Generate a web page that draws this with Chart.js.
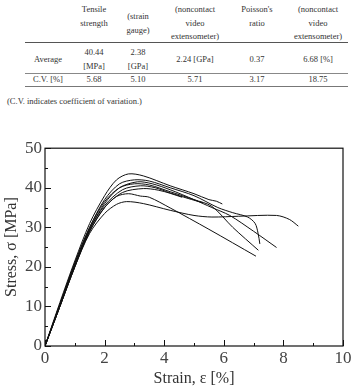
<!DOCTYPE html>
<html>
<head>
<meta charset="utf-8">
<script src="https://cdn.jsdelivr.net/npm/chart.js@4.4.1/dist/chart.umd.min.js"></script>
<style>
  body { margin: 0; background: #fff; width: 356px; height: 390px; position: relative; overflow: hidden; }
  .t { position: absolute; font-family: "Liberation Serif", "DejaVu Serif", serif; font-size: 8.5px; color: #333; line-height: 13.5px; text-align: center; width: 80px; white-space: nowrap; }
  .rule { position: absolute; left: 25px; width: 323px; }
  #chart { position: absolute; left: 0; top: 135px; }
</style>
</head>
<body>
<!-- table above the chart -->
<div class="t" style="left:54px; top:3px;">Tensile<br>strength</div>
<div class="t" style="left:98px; top:10px;">(strain<br>gauge)</div>
<div class="t" style="left:155px; top:3px;">(noncontact<br>video<br>extensometer)</div>
<div class="t" style="left:217px; top:3px;">Poisson's<br>ratio</div>
<div class="t" style="left:278px; top:3px;">(noncontact<br>video<br>extensometer)</div>
<div class="rule" style="top:42px; border-top:1.5px solid #555;"></div>

<div class="t" style="left:8px; top:53px;">Average</div>
<div class="t" style="left:54px; top:46px;">40.44<br>[MPa]</div>
<div class="t" style="left:98px; top:46px;">2.38<br>[GPa]</div>
<div class="t" style="left:155px; top:53px;">2.24 [GPa]</div>
<div class="t" style="left:217px; top:53px;">0.37</div>
<div class="t" style="left:278px; top:53px;">6.68 [%]</div>
<div class="rule" style="top:73px; border-top:1px solid #888;"></div>

<div class="t" style="left:8px; top:73px;">C.V. [%]</div>
<div class="t" style="left:54px; top:73px;">5.68</div>
<div class="t" style="left:98px; top:73px;">5.10</div>
<div class="t" style="left:155px; top:73px;">5.71</div>
<div class="t" style="left:217px; top:73px;">3.17</div>
<div class="t" style="left:278px; top:73px;">18.75</div>
<div class="rule" style="top:86px; border-top:1px solid #777;"></div>

<div class="t" style="left:7px; top:95px; width:auto; text-align:left;">(C.V. indicates coefficient of variation.)</div>

<canvas id="chart" width="356" height="255"></canvas>

<script>
// strain [%] / stress [MPa] for each specimen
var strain1 = [0, 0.5, 1.0, 1.5, 2.0, 2.4, 2.8, 3.3, 4.2, 5.0, 5.5, 5.75, 5.95];
var stress1 = [0, 11.0, 21.5, 31.0, 38.0, 42.0, 43.5, 43.0, 40.5, 38.5, 37.0, 36.6, 35.9];

var strain2 = [0, 0.5, 1.0, 1.5, 2.0, 2.5, 3.0, 3.5, 4.2, 5.0, 5.8, 6.3, 6.8, 7.05, 7.15, 7.21];
var stress2 = [0, 10.5, 21.0, 30.0, 37.0, 41.0, 42.0, 41.7, 40.0, 38.0, 35.0, 33.7, 32.6, 31.0, 28.5, 25.8];

var strain3 = [0, 0.5, 1.0, 1.5, 2.0, 2.5, 3.1, 3.6, 4.2, 5.0, 5.6, 6.2, 7.0, 7.77];
var stress3 = [0, 10.0, 20.0, 29.5, 36.0, 40.0, 41.5, 41.0, 39.5, 37.0, 35.0, 33.0, 29.0, 24.9];

var strain4 = [0, 0.5, 1.0, 1.5, 2.0, 2.5, 3.0, 3.5, 4.2, 5.0, 5.6, 6.3, 7.16];
var stress4 = [0, 10.5, 21.0, 30.0, 36.5, 40.0, 41.0, 40.7, 39.0, 37.0, 35.3, 30.0, 24.2];

var strain5 = [0, 0.5, 1.0, 1.5, 2.0, 2.6, 3.2, 3.7, 4.2, 4.8, 5.3];
var stress5 = [0, 10.0, 20.5, 29.5, 35.5, 39.5, 40.5, 40.0, 38.7, 37.3, 36.2];

var strain6 = [0, 0.5, 1.0, 1.5, 2.0, 2.6, 3.3, 3.8, 4.2, 4.6];
var stress6 = [0, 10.0, 20.0, 29.0, 35.0, 38.8, 39.8, 39.4, 38.6, 37.6];

var strain7 = [0, 0.5, 1.0, 1.5, 2.0, 2.4, 2.8, 3.2, 3.5, 4.2, 5.5, 7.08];
var stress7 = [0, 10.5, 20.5, 29.0, 35.0, 37.8, 38.5, 37.9, 37.6, 34.9, 29.5, 22.7];

var strain8 = [0, 0.5, 1.0, 1.5, 2.0, 2.4, 2.74, 3.3, 4.2, 5.0, 5.6, 6.5, 7.77, 8.2, 8.5];
var stress8 = [0, 10.0, 20.0, 28.5, 33.5, 35.8, 36.5, 36.0, 34.3, 33.0, 32.6, 32.8, 33.0, 32.0, 30.3];

var allStrain = [strain1, strain2, strain3, strain4, strain5, strain6, strain7, strain8];
var allStress = [stress1, stress2, stress3, stress4, stress5, stress6, stress7, stress8];

var xTicks = [0, 2, 4, 6, 8, 10];
var yTicks = [0, 10, 20, 30, 40, 50];

var serif = '"Liberation Serif", "DejaVu Serif", serif';

function toPoints(xs, ys) {
  var pts = [];
  for (var i = 0; i < xs.length; i++) {
    pts.push({x: xs[i], y: ys[i]});
  }
  return pts;
}

var datasets = [];
for (var i = 0; i < allStrain.length; i++) {
  datasets.push({
    data: toPoints(allStrain[i], allStress[i]),
    borderColor: '#111',
    borderWidth: 1,
    pointRadius: 0,
    showLine: true,
    fill: false,
    tension: 0.3
  });
}

// frame plus inward ticks (major and minor)
var frameTicks = {
  id: 'frameTicks',
  afterDatasetsDraw: function(chart) {
    var ctx = chart.ctx, a = chart.chartArea, x = chart.scales.x, y = chart.scales.y;
    ctx.save();
    ctx.strokeStyle = '#111';
    ctx.lineWidth = 1.2;
    ctx.strokeRect(a.left, a.top, a.right - a.left, a.bottom - a.top);
    ctx.lineWidth = 1;
    ctx.beginPath();
    for (var v = 0; v <= 10; v++) {
      var px = Math.round(x.getPixelForValue(v)) + 0.5;
      var len = v % 2 ? 3 : 6;
      ctx.moveTo(px, a.bottom);
      ctx.lineTo(px, a.bottom - len);
    }
    for (var w = 0; w <= 50; w += 5) {
      var py = Math.round(y.getPixelForValue(w)) + 0.5;
      var l2 = w % 10 ? 3 : 6;
      ctx.moveTo(a.left, py);
      ctx.lineTo(a.left + l2, py);
    }
    ctx.stroke();
    ctx.restore();
  }
};

new Chart(document.getElementById('chart'), {
  type: 'scatter',
  data: {datasets: datasets},
  options: {
    responsive: false,
    animation: false,
    devicePixelRatio: 1,
    layout: {padding: {top: 12, right: 13, left: 0, bottom: 0}},
    plugins: {legend: {display: false}, tooltip: {enabled: false}},
    scales: {
      x: {
        type: 'linear', min: 0, max: 10,
        afterFit: function(s) { s.height = 44; },
        afterBuildTicks: function(s) { s.ticks = xTicks.map(function(v) { return {value: v}; }); },
        grid: {display: false, drawTicks: false},
        border: {display: false},
        ticks: {padding: 2, color: '#444', font: {family: serif, size: 17}},
        title: {display: true, text: 'Strain, ε [%]', color: '#333', font: {family: serif, size: 16}, padding: {top: 0, bottom: 2}}
      },
      y: {
        type: 'linear', min: 0, max: 50,
        afterFit: function(s) { s.width = 45; },
        afterBuildTicks: function(s) { s.ticks = yTicks.map(function(v) { return {value: v}; }); },
        grid: {display: false, drawTicks: false},
        border: {display: false},
        ticks: {padding: 3, color: '#444', font: {family: serif, size: 17}},
        title: {display: true, text: 'Stress, σ [MPa]', color: '#333', font: {family: serif, size: 16}, padding: {top: 2, bottom: 0}}
      }
    }
  },
  plugins: [frameTicks]
});
</script>
</body>
</html>
